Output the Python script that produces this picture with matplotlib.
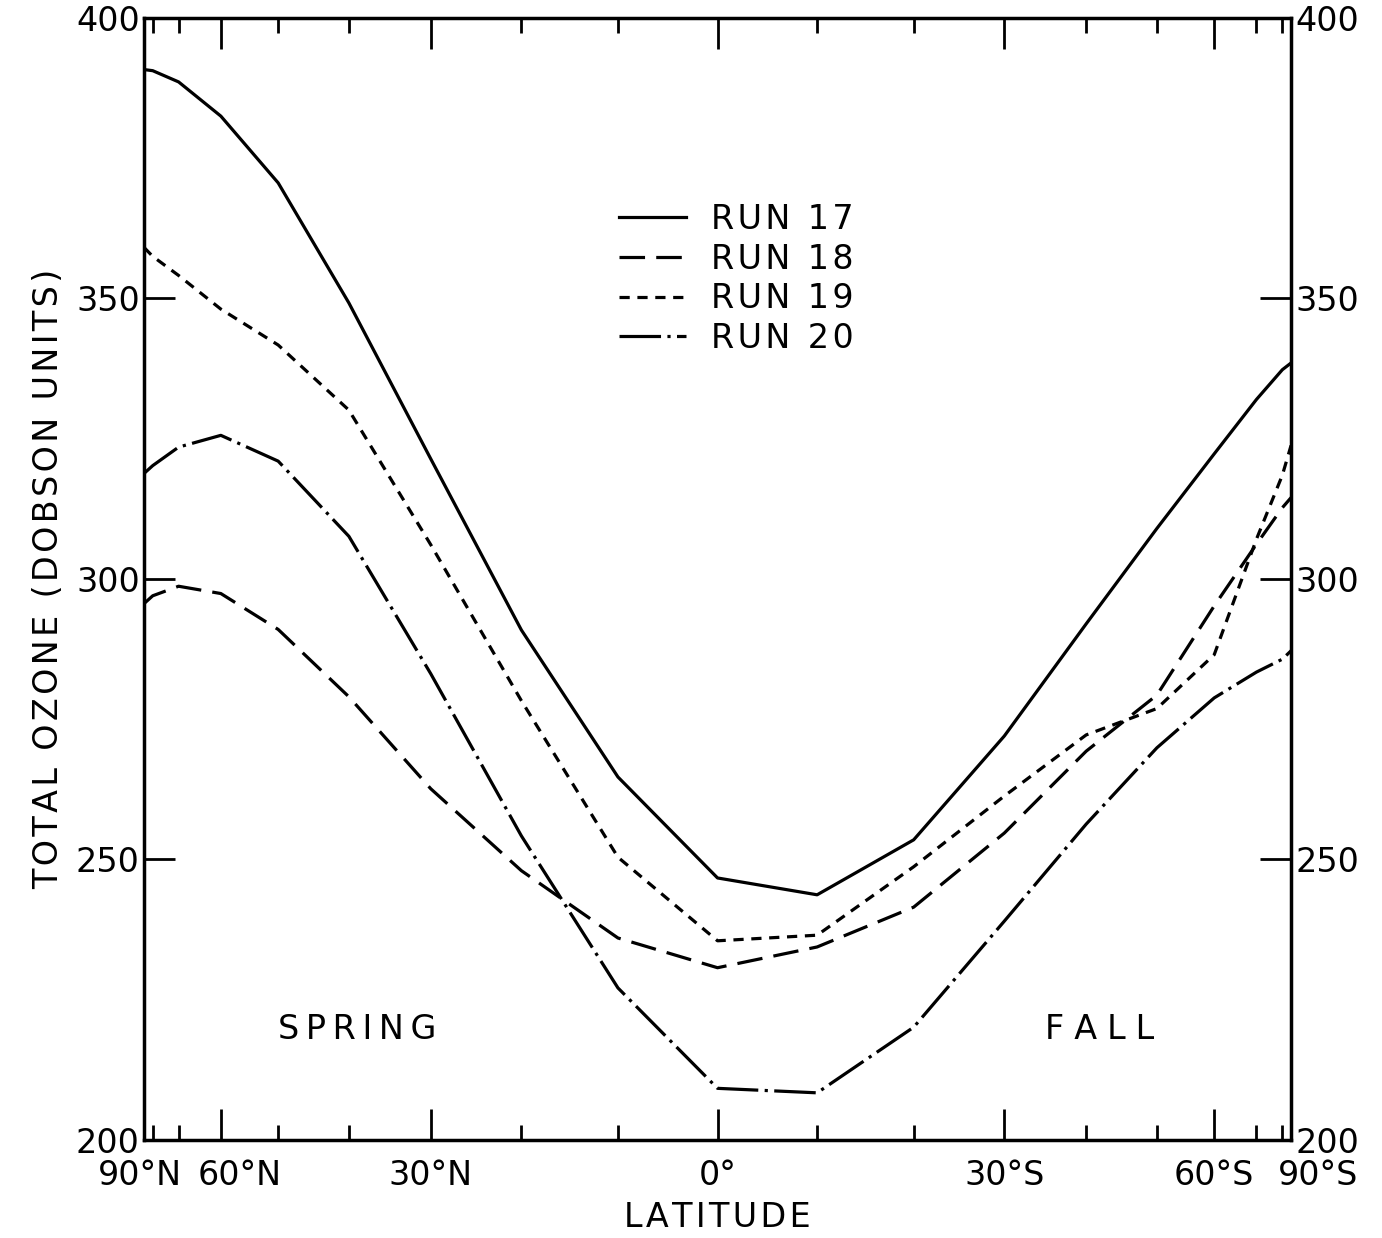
import numpy as np
import matplotlib
matplotlib.use("Agg")
import matplotlib.pyplot as plt
import matplotlib.transforms as mtrans

# latitude nodes, north positive (90N ... 90S)
lat = [90, 80, 70, 60, 50, 40, 30, 20, 10, 0, -10, -20, -30, -40, -50, -60, -70, -80, -90]

run17 = [390.8, 390.6, 388.6, 382.5, 370.6, 349.2, 321.4, 290.9, 264.7, 246.7,
         243.7, 253.5, 272.0, 292.0, 309.0, 322.3, 332.0, 337.3, 338.5]
run18 = [295.6, 297.0, 298.7, 297.4, 291.0, 279.0, 262.6, 248.0, 236.0, 230.7,
         234.4, 241.5, 254.7, 269.3, 279.3, 295.2, 306.2, 312.7, 314.5]
run19 = [359.1, 357.5, 354.1, 348.1, 341.7, 330.1, 306.1, 278.3, 250.4, 235.5,
         236.5, 248.7, 261.3, 272.2, 276.9, 286.5, 307.1, 318.5, 323.8]
run20 = [318.8, 320.2, 323.5, 325.6, 321.0, 307.6, 283.1, 254.2, 227.1, 209.2,
         208.4, 220.1, 239.0, 256.3, 269.9, 278.8, 283.4, 285.7, 287.2]

major_lat = [90, 60, 30, 0, -30, -60, -90]
major_lbl = ["90°N", "60°N", "30°N", "0°", "30°S", "60°S", "90°S"]
minor_lat = [80, 70, 50, 40, 20, 10, -10, -20, -40, -50, -70, -80]
yticks = [200, 250, 300, 350, 400]

def sx(l):
    # area-weighted latitude axis (sine of latitude)
    return np.sin(np.radians(np.asarray(l, dtype=float)))

def spaced(s, sep):
    # poor man's letter spacing
    return sep.join(s)

HAIR = '\u200a'
THIN = '\u2009'

plt.rcParams['font.family'] = ['DejaVu Sans']
fig = plt.figure(figsize=(13.82, 12.38), dpi=100)
ax = fig.add_axes([0.1042, 0.0792, 0.8300, 0.9063])

lw = 2.3
ax.plot(sx(lat), run17, color='black', lw=lw, label=spaced('RUN 17', HAIR))
ax.plot(sx(lat), run18, color='black', lw=lw, dashes=(8, 3.5), label=spaced('RUN 18', HAIR))
ax.plot(sx(lat), run19, color='black', lw=lw, dashes=(3.2, 2.4), label=spaced('RUN 19', HAIR))
ax.plot(sx(lat), run20, color='black', lw=lw, dashes=(13, 2, 1, 2), label=spaced('RUN 20', HAIR))

ax.set_xlim(1, -1)
ax.set_ylim(200, 400)

ax.set_xticks(sx(major_lat))
ax.set_xticklabels(major_lbl)
ax.set_xticks(sx(minor_lat), minor=True)
ax.set_yticks(yticks)
ax.set_yticklabels([str(v) for v in yticks])

ax.tick_params(axis='both', which='major', direction='in', length=22, width=2,
               labelsize=24, top=True, right=True, labelright=True, colors='black')
ax.tick_params(axis='x', which='minor', direction='in', length=11, width=2,
               top=True, bottom=True)
ax.tick_params(axis='x', which='major', pad=14)
ax.tick_params(axis='y', which='major', pad=3)

# crowded labels near the poles get pushed apart, like the original
lbls = ax.get_xticklabels()
for i, dx in [(0, -0.04), (1, 0.19), (6, 0.27)]:
    lbls[i].set_transform(lbls[i].get_transform() +
                          mtrans.ScaledTranslation(dx, 0, fig.dpi_scale_trans))

for s in ax.spines.values():
    s.set_linewidth(2.5)

ax.set_xlabel(spaced('LATITUDE', HAIR), fontsize=24, labelpad=6)
ax.set_ylabel(spaced('TOTAL OZONE (DOBSON UNITS)', HAIR), fontsize=24, labelpad=8)

ax.text(0.186, 0.098, spaced('SPRING', THIN), transform=ax.transAxes, fontsize=24,
        ha='center', va='center')
ax.text(0.833, 0.098, spaced('FALL', THIN + HAIR), transform=ax.transAxes, fontsize=24,
        ha='center', va='center')

ax.legend(loc='upper left', bbox_to_anchor=(0.4, 0.85), frameon=False,
          fontsize=24, handlelength=2.0, handletextpad=0.75,
          labelspacing=0.2, borderpad=0)

fig.savefig('out.png', dpi=100)
